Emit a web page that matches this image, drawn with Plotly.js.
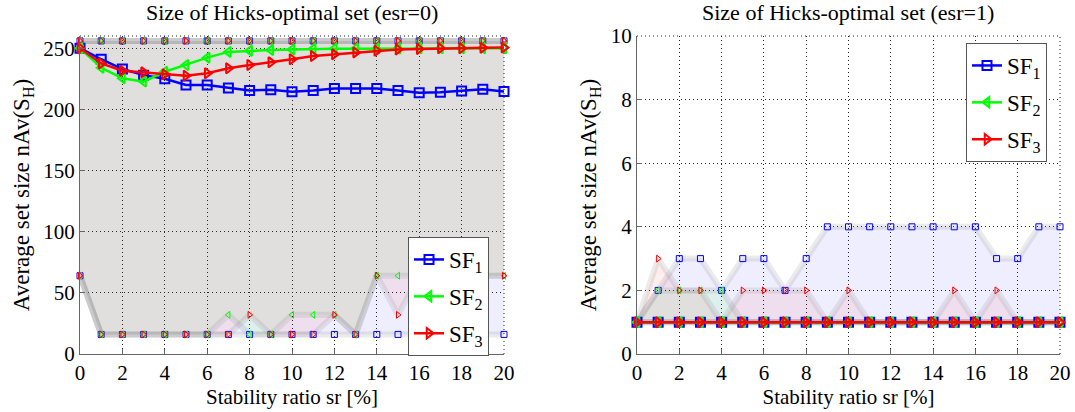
<!DOCTYPE html>
<html>
<head>
<meta charset="utf-8">
<script src="https://cdn.plot.ly/plotly-3.0.1.min.js"></script>
<style>
  html, body { margin: 0; padding: 0; background: #fff; }
  #chart { width: 1075px; height: 412px; }
</style>
</head>
<body>
<div id="chart"></div>
<script>
// Stability ratio sr [%]
const sr = [0, 1, 2, 3, 4, 5, 6, 7, 8, 9, 10, 11, 12, 13, 14, 15, 16, 17, 18, 19, 20];
const xTicks = [0, 2, 4, 6, 8, 10, 12, 14, 16, 18, 20];
const seriesNames = ['SF<sub>1</sub>', 'SF<sub>2</sub>', 'SF<sub>3</sub>'];

// esr = 0 : average size of the Hicks-optimal set
const sf1MeanEsr0 = [250, 241, 233, 228, 225, 220, 220, 217.5, 215.5, 216, 214.5, 215.5, 217, 217, 217, 215.5, 213.7, 214, 215, 216.5, 214.7];
const sf2MeanEsr0 = [250, 234, 225.5, 222.7, 230.8, 236.3, 242.3, 247, 248, 248.5, 249, 249.5, 249.6, 249.6, 249.7, 249.8, 249.9, 250, 250, 250, 250];
const sf3MeanEsr0 = [250, 237.6, 231.6, 230.3, 228.7, 227.6, 229.5, 233.6, 236.3, 238.5, 241, 243.6, 245, 246.6, 248, 249, 249.4, 250, 250, 250.3, 250.5];
// esr = 0 : largest and smallest set over the runs
const sf1MaxEsr0 = [256, 256, 256, 256, 256, 256, 256, 256, 256, 256, 256, 256, 256, 256, 256, 256, 256, 256, 256, 256, 256];
const sf2MaxEsr0 = [256, 256, 256, 256, 256, 256, 256, 256, 256, 256, 256, 256, 256, 256, 256, 256, 256, 256, 256, 256, 256];
const sf3MaxEsr0 = [256, 256, 256, 256, 256, 256, 256, 256, 256, 256, 256, 256, 256, 256, 256, 256, 256, 256, 256, 256, 256];
const sf1MinEsr0 = [64, 16, 16, 16, 16, 16, 16, 16, 16, 16, 16, 16, 16, 16, 16, 16, 16, 16, 16, 16, 16];
const sf2MinEsr0 = [64, 16, 16, 16, 16, 16, 16, 32, 16, 16, 32, 32, 32, 16, 64, 64, 64, 64, 64, 64, 64];
const sf3MinEsr0 = [64, 16, 16, 16, 16, 16, 16, 16, 32, 16, 16, 16, 32, 16, 64, 32, 64, 64, 64, 64, 64];

// esr = 1
const sf1MeanEsr1 = [1, 1, 1, 1, 1, 1, 1, 1, 1, 1, 1, 1, 1, 1, 1, 1, 1, 1, 1, 1, 1];
const sf2MeanEsr1 = [1, 1, 1, 1, 1, 1, 1, 1, 1, 1, 1, 1, 1, 1, 1, 1, 1, 1, 1, 1, 1];
const sf3MeanEsr1 = [1, 1, 1, 1, 1, 1, 1, 1, 1, 1, 1, 1, 1, 1, 1, 1, 1, 1, 1, 1, 1];
const sf1MaxEsr1 = [1, 2, 3, 3, 2, 3, 3, 2, 3, 4, 4, 4, 4, 4, 4, 4, 4, 3, 3, 4, 4];
const sf2MaxEsr1 = [1, 2, 2, 2, 2, 1, 1, 1, 1, 1, 1, 1, 1, 1, 1, 1, 1, 1, 1, 1, 1];
const sf3MaxEsr1 = [1, 3, 2, 2, 1, 2, 2, 2, 2, 1, 2, 1, 1, 1, 1, 2, 1, 2, 1, 1, 1];
const sf1MinEsr1 = [1, 1, 1, 1, 1, 1, 1, 1, 1, 1, 1, 1, 1, 1, 1, 1, 1, 1, 1, 1, 1];
const sf2MinEsr1 = [1, 1, 1, 1, 1, 1, 1, 1, 1, 1, 1, 1, 1, 1, 1, 1, 1, 1, 1, 1, 1];
const sf3MinEsr1 = [1, 1, 1, 1, 1, 1, 1, 1, 1, 1, 1, 1, 1, 1, 1, 1, 1, 1, 1, 1, 1];

const lineColors = ['#0000ff', '#00ff00', '#ff0000'];
const fillColors = ['rgba(0,0,255,0.065)', 'rgba(0,255,0,0.065)', 'rgba(255,0,0,0.065)'];
const bandColor = 'rgba(120,120,120,0.15)';
const symbols = ['square-open', 'triangle-left-open', 'triangle-right-open'];
const FONT = 'Liberation Serif, serif';

function panelTraces(means, maxs, mins, xa, ya, legendId) {
  const traces = [];
  const back = sr.slice().reverse();
  // shaded min..max envelope of each series
  for (let i = 0; i < 3; i++) {
    traces.push({
      x: sr.concat(back), y: maxs[i].concat(mins[i].slice().reverse()),
      xaxis: xa, yaxis: ya, type: 'scatter', mode: 'lines', fill: 'toself',
      fillcolor: fillColors[i], line: { width: 0 }, hoverinfo: 'skip', showlegend: false
    });
  }
  // envelope borders with small markers
  for (let i = 0; i < 3; i++) {
    [maxs[i], mins[i]].forEach(vals => {
      traces.push({
        x: sr, y: vals, xaxis: xa, yaxis: ya, type: 'scatter', mode: 'lines+markers',
        line: { color: bandColor, width: 6 },
        marker: { symbol: symbols[i], size: 6, color: lineColors[i], line: { width: 1, color: lineColors[i] } },
        cliponaxis: false, hoverinfo: 'skip', showlegend: false
      });
    });
  }
  // average set size
  for (let i = 0; i < 3; i++) {
    traces.push({
      x: sr, y: means[i], xaxis: xa, yaxis: ya, type: 'scatter', mode: 'lines+markers',
      name: seriesNames[i], legend: legendId, legendgroup: legendId + i,
      line: { color: lineColors[i], width: 2.5 },
      marker: { symbol: symbols[i], size: 9, color: lineColors[i], line: { width: 2, color: lineColors[i] } },
      cliponaxis: false
    });
  }
  return traces;
}

const data = [].concat(
  panelTraces([sf1MeanEsr0, sf2MeanEsr0, sf3MeanEsr0], [sf1MaxEsr0, sf2MaxEsr0, sf3MaxEsr0],
              [sf1MinEsr0, sf2MinEsr0, sf3MinEsr0], 'x', 'y', 'legend'),
  panelTraces([sf1MeanEsr1, sf2MeanEsr1, sf3MeanEsr1], [sf1MaxEsr1, sf2MaxEsr1, sf3MaxEsr1],
              [sf1MinEsr1, sf2MinEsr1, sf3MinEsr1], 'x2', 'y2', 'legend2')
);

const yDomain = [58 / 412, 376 / 412];

function xAxis(domain, anchor) {
  return {
    domain: domain, anchor: anchor, range: [0, 20], tickvals: xTicks,
    showgrid: true, gridcolor: '#222', griddash: '1px,3px', gridwidth: 1,
    showline: true, linecolor: '#666', linewidth: 1, zeroline: false,
    ticks: 'inside', ticklen: 5, tickcolor: '#666',
    tickfont: { family: FONT, size: 21, color: '#000' },
    title: { text: 'Stability ratio sr [%]', font: { family: FONT, size: 21, color: '#000' }, standoff: 2 }
  };
}
function yAxis(anchor, range, ticks) {
  return {
    domain: yDomain, anchor: anchor, range: range, tickvals: ticks,
    showgrid: true, gridcolor: '#222', griddash: '1px,3px', gridwidth: 1,
    showline: true, linecolor: '#666', linewidth: 1, zeroline: false,
    ticks: 'inside', ticklen: 5, tickcolor: '#666',
    tickfont: { family: FONT, size: 21, color: '#000' },
    title: { text: 'Average set size nAv(S<sub>H</sub>)', font: { family: FONT, size: 23, color: '#000' }, standoff: 7 }
  };
}

const legendBase = {
  bgcolor: '#ffffff', bordercolor: '#555', borderwidth: 1,
  font: { family: FONT, size: 23, color: '#000' },
  xanchor: 'left', yanchor: 'top', xref: 'paper', yref: 'paper',
  traceorder: 'grouped', tracegroupgap: 4
};

const dotted = { color: '#222', width: 1, dash: '1px,3px' };

const layout = {
  width: 1075, height: 412,
  margin: { l: 0, r: 0, t: 0, b: 0 },
  paper_bgcolor: '#ffffff', plot_bgcolor: '#ffffff',
  font: { family: FONT, color: '#000' },
  showlegend: true,
  xaxis: xAxis([80 / 1075, 504 / 1075], 'y'),
  yaxis: yAxis('x', [0, 260], [0, 50, 100, 150, 200, 250]),
  xaxis2: xAxis([637 / 1075, 1060 / 1075], 'y2'),
  yaxis2: yAxis('x2', [0, 10], [0, 2, 4, 6, 8, 10]),
  legend: Object.assign({}, legendBase, { x: 408 / 1075, y: (412 - 237) / 412 }),
  legend2: Object.assign({}, legendBase, { x: 966 / 1075, y: (412 - 43) / 412 }),
  shapes: [
    { type: 'line', xref: 'x domain', yref: 'y domain', x0: 0, x1: 1, y0: 1, y1: 1, line: dotted },
    { type: 'line', xref: 'x domain', yref: 'y domain', x0: 1, x1: 1, y0: 0, y1: 1, line: dotted },
    { type: 'line', xref: 'x2 domain', yref: 'y2 domain', x0: 0, x1: 1, y0: 1, y1: 1, line: dotted },
    { type: 'line', xref: 'x2 domain', yref: 'y2 domain', x0: 1, x1: 1, y0: 0, y1: 1, line: dotted }
  ],
  annotations: [
    { text: 'Size of Hicks-optimal set (esr=0)', xref: 'paper', yref: 'paper',
      x: 292 / 1075, y: (412 - 13) / 412, xanchor: 'center', yanchor: 'middle', showarrow: false,
      font: { family: FONT, size: 22, color: '#000' } },
    { text: 'Size of Hicks-optimal set (esr=1)', xref: 'paper', yref: 'paper',
      x: 848 / 1075, y: (412 - 13) / 412, xanchor: 'center', yanchor: 'middle', showarrow: false,
      font: { family: FONT, size: 22, color: '#000' } }
  ]
};

Plotly.newPlot('chart', data, layout, { displayModeBar: false, staticPlot: true });
</script>
</body>
</html>
